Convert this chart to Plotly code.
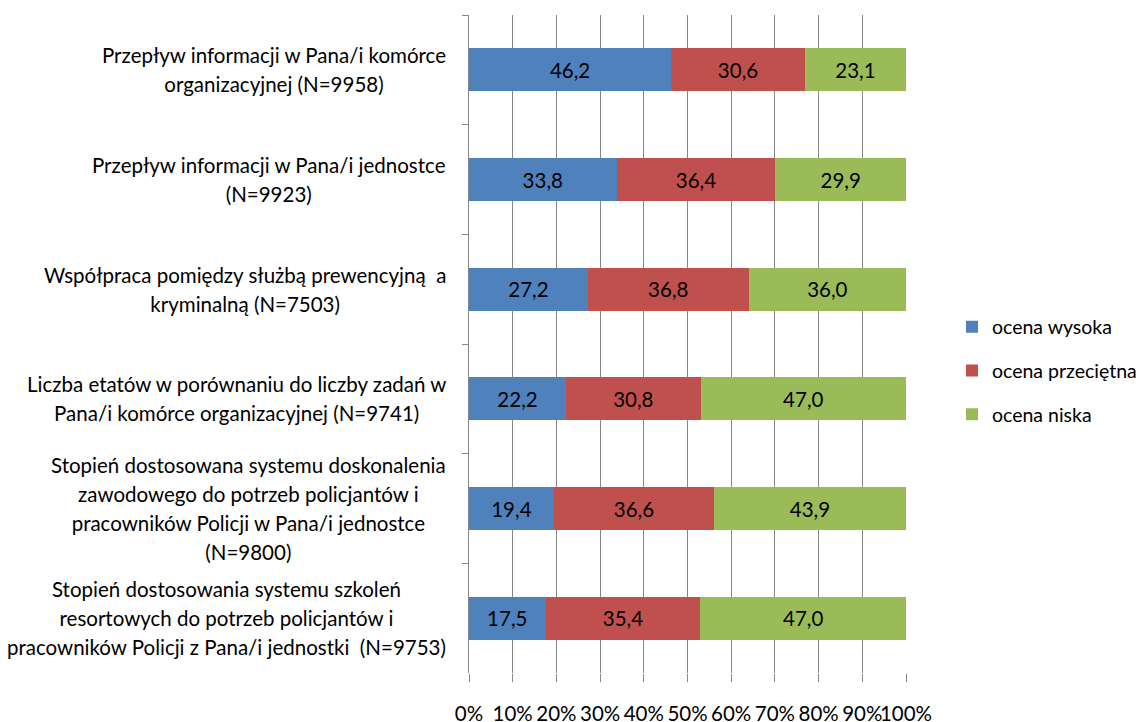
import plotly.graph_objects as go

categories = [
    "Przepływ informacji w Pana/i komórce<br>organizacyjnej (N=9958)",
    "Przepływ informacji w Pana/i jednostce<br>(N=9923)",
    "Współpraca pomiędzy służbą prewencyjną  a<br>kryminalną (N=7503)",
    "Liczba etatów w porównaniu do liczby zadań w<br>Pana/i komórce organizacyjnej (N=9741)",
    "Stopień dostosowana systemu doskonalenia<br>zawodowego do potrzeb policjantów i<br>pracowników Policji w Pana/i jednostce<br>(N=9800)",
    "Stopień dostosowania systemu szkoleń<br>resortowych do potrzeb policjantów i<br>pracowników Policji z Pana/i jednostki  (N=9753)",
]
wysoka = [46.2, 33.8, 27.2, 22.2, 19.4, 17.5]
przecietna = [30.6, 36.4, 36.8, 30.8, 36.6, 35.4]
niska = [23.1, 29.9, 36.0, 47.0, 43.9, 47.0]
series_names = ["ocena wysoka", "ocena przeciętna", "ocena niska"]
colors = ["#4F81BD", "#C0504D", "#9BBB59"]
tick_vals = [0, 10, 20, 30, 40, 50, 60, 70, 80, 90, 100]
tick_text = ["0%", "10%", "20%", "30%", "40%", "50%", "60%", "70%", "80%", "90%", "100%"]

FONT = "Lato"
FS = 20.5
GRID = "#878787"
W, H = 1138, 714

fig = go.Figure()
for name, vals, col in zip(series_names, [wysoka, przecietna, niska], colors):
    fig.add_trace(go.Bar(
        y=categories, x=vals, name=name, orientation="h",
        marker=dict(color=col, line=dict(width=0)),
        text=[f"{v:.1f}".replace(".", ",") for v in vals],
        texttemplate="%{text}",
        textposition="inside", insidetextanchor="middle",
        textfont=dict(family=FONT, size=FS, color="black"),
        constraintext="none",
        width=0.39, legendgroup=name,
        hoverinfo="skip",
    ))

# category labels: centred multi-line blocks, 29px line pitch
LINE_H = 29
for cat in categories:
    lines = cat.split("<br>")
    txt = "<br>".join(f'<span style="font-size:{FS}px">{ln}</span>' for ln in lines)
    fig.add_annotation(
        x=0, xref="paper", y=cat, yref="y",
        text=txt, showarrow=False, xanchor="right", yanchor="middle",
        align="center", xshift=-21,
        font=dict(family=FONT, size=LINE_H / 1.3, color="black"),
    )

fig.update_layout(
    width=W, height=H,
    margin=dict(l=461, r=240, t=7, b=49),
    paper_bgcolor="white", plot_bgcolor="white",
    barmode="stack", barnorm="percent",
    showlegend=True,
    legend=dict(
        xref="container", x=944 / W, y=0.459, yref="paper",
        xanchor="left", yanchor="middle",
        traceorder="grouped", tracegroupgap=15.5,
        font=dict(family=FONT, size=19.5, color="black"),
    ),
    font=dict(family=FONT, size=FS, color="black"),
)
fig.update_xaxes(
    range=[0, 100], tickvals=tick_vals, ticktext=tick_text,
    showgrid=True, gridcolor=GRID, gridwidth=1,
    ticks="outside", ticklen=8, tickcolor=GRID,
    showline=False, zeroline=False, tickangle=0,
    ticklabelstandoff=14, automargin=False,
    tickfont=dict(family=FONT, size=FS, color="black"),
)
fig.update_yaxes(
    autorange="reversed", showticklabels=False,
    showline=True, linecolor=GRID, linewidth=1,
    ticks="outside", tickson="boundaries", ticklen=6, tickcolor=GRID,
    showgrid=False, automargin=False,
)

fig.write_html("out.html")
